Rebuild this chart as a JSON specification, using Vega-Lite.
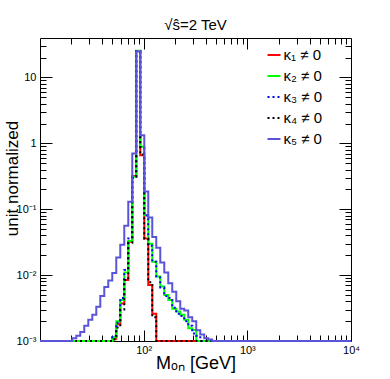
{
  "$schema": "https://vega.github.io/schema/vega-lite/v6.json",
  "width": 311,
  "height": 303,
  "autosize": "none",
  "padding": {"left": 40, "top": 38, "right": 39, "bottom": 38},
  "background": "white",
  "config": {"font": "Liberation Sans", "view": {"stroke": "black", "strokeWidth": 1}},
  "title": {"text": "√ŝ=2 TeV", "fontSize": 15, "fontWeight": "normal", "font": "Liberation Sans", "color": "black", "offset": 5, "anchor": "middle"},
  "data": {"values": [
    {"s":"κ₁ ≠ 0","m":10,"v":0.001},{"s":"κ₁ ≠ 0","m":49.79,"v":0.00108},{"s":"κ₁ ≠ 0","m":54.42,"v":0.0018},{"s":"κ₁ ≠ 0","m":59.47,"v":0.0037},{"s":"κ₁ ≠ 0","m":65.0,"v":0.0084},{"s":"κ₁ ≠ 0","m":71.03,"v":0.032},{"s":"κ₁ ≠ 0","m":77.63,"v":0.32},{"s":"κ₁ ≠ 0","m":84.84,"v":25},{"s":"κ₁ ≠ 0","m":92.72,"v":0.66},{"s":"κ₁ ≠ 0","m":101.34,"v":0.036},{"s":"κ₁ ≠ 0","m":110.75,"v":0.0071},{"s":"κ₁ ≠ 0","m":121.04,"v":0.0026},{"s":"κ₁ ≠ 0","m":132.28,"v":0.001},{"s":"κ₁ ≠ 0","m":10000,"v":0.001},
    {"s":"κ₂ ≠ 0","m":10,"v":0.001},{"s":"κ₂ ≠ 0","m":49.79,"v":0.00114},{"s":"κ₂ ≠ 0","m":54.42,"v":0.002},{"s":"κ₂ ≠ 0","m":59.47,"v":0.0042},{"s":"κ₂ ≠ 0","m":65.0,"v":0.011},{"s":"κ₂ ≠ 0","m":71.03,"v":0.033},{"s":"κ₂ ≠ 0","m":77.63,"v":0.31},{"s":"κ₂ ≠ 0","m":84.84,"v":25.5},{"s":"κ₂ ≠ 0","m":92.72,"v":0.89},{"s":"κ₂ ≠ 0","m":101.34,"v":0.082},{"s":"κ₂ ≠ 0","m":110.75,"v":0.03},{"s":"κ₂ ≠ 0","m":121.04,"v":0.016},{"s":"κ₂ ≠ 0","m":132.28,"v":0.0095},{"s":"κ₂ ≠ 0","m":144.57,"v":0.0067},{"s":"κ₂ ≠ 0","m":158.0,"v":0.005},{"s":"κ₂ ≠ 0","m":172.67,"v":0.0042},{"s":"κ₂ ≠ 0","m":188.71,"v":0.0031},{"s":"κ₂ ≠ 0","m":206.23,"v":0.0028},{"s":"κ₂ ≠ 0","m":225.39,"v":0.0025},{"s":"κ₂ ≠ 0","m":246.33,"v":0.0021},{"s":"κ₂ ≠ 0","m":269.2,"v":0.00156},{"s":"κ₂ ≠ 0","m":294.2,"v":0.00147},{"s":"κ₂ ≠ 0","m":321.5,"v":0.001},{"s":"κ₂ ≠ 0","m":10000,"v":0.001},
    {"s":"κ₃ ≠ 0","m":10,"v":0.001},{"s":"κ₃ ≠ 0","m":49.79,"v":0.0012},{"s":"κ₃ ≠ 0","m":54.42,"v":0.0019},{"s":"κ₃ ≠ 0","m":59.47,"v":0.0045},{"s":"κ₃ ≠ 0","m":65.0,"v":0.012},{"s":"κ₃ ≠ 0","m":71.03,"v":0.036},{"s":"κ₃ ≠ 0","m":77.63,"v":0.31},{"s":"κ₃ ≠ 0","m":84.84,"v":25},{"s":"κ₃ ≠ 0","m":92.72,"v":0.88},{"s":"κ₃ ≠ 0","m":101.34,"v":0.08},{"s":"κ₃ ≠ 0","m":110.75,"v":0.028},{"s":"κ₃ ≠ 0","m":121.04,"v":0.016},{"s":"κ₃ ≠ 0","m":132.28,"v":0.0092},{"s":"κ₃ ≠ 0","m":144.57,"v":0.0065},{"s":"κ₃ ≠ 0","m":158.0,"v":0.0048},{"s":"κ₃ ≠ 0","m":172.67,"v":0.0045},{"s":"κ₃ ≠ 0","m":188.71,"v":0.0032},{"s":"κ₃ ≠ 0","m":206.23,"v":0.0026},{"s":"κ₃ ≠ 0","m":225.39,"v":0.0024},{"s":"κ₃ ≠ 0","m":246.33,"v":0.002},{"s":"κ₃ ≠ 0","m":269.2,"v":0.0017},{"s":"κ₃ ≠ 0","m":294.2,"v":0.0013},{"s":"κ₃ ≠ 0","m":321.5,"v":0.0012},{"s":"κ₃ ≠ 0","m":351.4,"v":0.001},{"s":"κ₃ ≠ 0","m":10000,"v":0.001},
    {"s":"κ₄ ≠ 0","m":10,"v":0.001},{"s":"κ₄ ≠ 0","m":49.79,"v":0.00105},{"s":"κ₄ ≠ 0","m":54.42,"v":0.0016},{"s":"κ₄ ≠ 0","m":59.47,"v":0.003},{"s":"κ₄ ≠ 0","m":65.0,"v":0.0084},{"s":"κ₄ ≠ 0","m":71.03,"v":0.031},{"s":"κ₄ ≠ 0","m":77.63,"v":0.30},{"s":"κ₄ ≠ 0","m":84.84,"v":25},{"s":"κ₄ ≠ 0","m":92.72,"v":0.68},{"s":"κ₄ ≠ 0","m":101.34,"v":0.036},{"s":"κ₄ ≠ 0","m":110.75,"v":0.0078},{"s":"κ₄ ≠ 0","m":121.04,"v":0.0023},{"s":"κ₄ ≠ 0","m":132.28,"v":0.001},{"s":"κ₄ ≠ 0","m":10000,"v":0.001},
    {"s":"κ₅ ≠ 0","m":10,"v":0.001},{"s":"κ₅ ≠ 0","m":20.49,"v":0.0011},{"s":"κ₅ ≠ 0","m":22.39,"v":0.0012},{"s":"κ₅ ≠ 0","m":24.47,"v":0.00137},{"s":"κ₅ ≠ 0","m":26.74,"v":0.0017},{"s":"κ₅ ≠ 0","m":29.23,"v":0.0021},{"s":"κ₅ ≠ 0","m":31.94,"v":0.0025},{"s":"κ₅ ≠ 0","m":34.91,"v":0.0033},{"s":"κ₅ ≠ 0","m":38.14,"v":0.0048},{"s":"κ₅ ≠ 0","m":41.69,"v":0.0066},{"s":"κ₅ ≠ 0","m":45.56,"v":0.0083},{"s":"κ₅ ≠ 0","m":49.79,"v":0.0108},{"s":"κ₅ ≠ 0","m":54.42,"v":0.0185},{"s":"κ₅ ≠ 0","m":59.47,"v":0.029},{"s":"κ₅ ≠ 0","m":65.0,"v":0.056},{"s":"κ₅ ≠ 0","m":71.03,"v":0.13},{"s":"κ₅ ≠ 0","m":77.63,"v":0.70},{"s":"κ₅ ≠ 0","m":84.84,"v":25},{"s":"κ₅ ≠ 0","m":92.72,"v":1.33},{"s":"κ₅ ≠ 0","m":101.34,"v":0.185},{"s":"κ₅ ≠ 0","m":110.75,"v":0.075},{"s":"κ₅ ≠ 0","m":121.04,"v":0.038},{"s":"κ₅ ≠ 0","m":132.28,"v":0.026},{"s":"κ₅ ≠ 0","m":144.57,"v":0.0155},{"s":"κ₅ ≠ 0","m":158.0,"v":0.011},{"s":"κ₅ ≠ 0","m":172.67,"v":0.0075},{"s":"κ₅ ≠ 0","m":188.71,"v":0.0056},{"s":"κ₅ ≠ 0","m":206.23,"v":0.004},{"s":"κ₅ ≠ 0","m":225.39,"v":0.0031},{"s":"κ₅ ≠ 0","m":246.33,"v":0.0029},{"s":"κ₅ ≠ 0","m":269.2,"v":0.0023},{"s":"κ₅ ≠ 0","m":294.2,"v":0.002},{"s":"κ₅ ≠ 0","m":321.5,"v":0.00145},{"s":"κ₅ ≠ 0","m":351.4,"v":0.00125},{"s":"κ₅ ≠ 0","m":384.0,"v":0.0011},{"s":"κ₅ ≠ 0","m":419.7,"v":0.00105},{"s":"κ₅ ≠ 0","m":458.6,"v":0.001},{"s":"κ₅ ≠ 0","m":10000,"v":0.001}
  ]},
  "resolve": {"axis": {"x": "independent", "y": "independent"}},
  "layer": [
    {
      "mark": {"type": "line", "interpolate": "step-after", "strokeWidth": 2, "clip": false},
      "encoding": {
        "x": {"field": "m", "type": "quantitative", "scale": {"type": "log", "domain": [10, 10000], "nice": false},
          "axis": {"orient": "bottom", "values": [100, 1000, 10000], "ticks": false, "domain": false, "grid": false, "labelFlush": false, "labelOverlap": false, "labelBound": false,
            "labelExpr": "datum.value == 100 ? '10²' : datum.value == 1000 ? '10³' : '10⁴'",
            "labelFont": "Liberation Sans", "labelFontSize": 11, "labelColor": "black", "labelPadding": 3,
            "title": "Mₒₙ [GeV]", "titleFont": "Liberation Sans", "titleFontSize": 18, "titleFontWeight": "normal", "titleColor": "black", "titleBaseline": "alphabetic", "titleY": 27}},
        "y": {"field": "v", "type": "quantitative", "scale": {"type": "log", "domain": [0.001, 39.7], "nice": false},
          "axis": {"orient": "left", "values": [0.001, 0.01, 0.1, 1, 10], "ticks": false, "domain": false, "grid": false, "labelOverlap": false, "labelBound": false,
            "labelExpr": "datum.value == 10 ? '10' : datum.value == 1 ? '1' : datum.value == 0.1 ? '10⁻¹' : datum.value == 0.01 ? '10⁻²' : '10⁻³'",
            "labelFont": "Liberation Sans", "labelFontSize": 11, "labelColor": "black", "labelPadding": 4,
            "title": "unit normalized", "titleFont": "Liberation Sans", "titleFontSize": 17, "titleFontWeight": "normal", "titleColor": "black", "titleAlign": "center", "titleBaseline": "alphabetic", "titleX": -22.5, "titleY": 140}},
        "color": {"field": "s", "type": "nominal",
          "scale": {"domain": ["κ₁ ≠ 0", "κ₂ ≠ 0", "κ₃ ≠ 0", "κ₄ ≠ 0", "κ₅ ≠ 0"], "range": ["#ff0000", "#00ff00", "#0000ff", "#000000", "#5954d8"]},
          "legend": {"orient": "none", "legendX": 226.5, "legendY": 9.5, "title": null, "symbolType": "stroke", "symbolSize": 169, "symbolStrokeWidth": 2, "labelFont": "Liberation Sans", "labelFontSize": 15, "labelColor": "black", "labelOffset": 2, "rowPadding": 5}},
        "strokeDash": {"field": "s", "type": "nominal",
          "scale": {"domain": ["κ₁ ≠ 0", "κ₂ ≠ 0", "κ₃ ≠ 0", "κ₄ ≠ 0", "κ₅ ≠ 0"], "range": [[1, 0], [1, 0], [2, 3], [2, 3], [1, 0]]},
          "legend": {"orient": "none", "legendX": 226.5, "legendY": 9.5, "title": null, "symbolType": "stroke", "symbolSize": 169, "symbolStrokeWidth": 2, "labelFont": "Liberation Sans", "labelFontSize": 15, "labelColor": "black", "labelOffset": 2, "rowPadding": 5}}
      }
    },
    {
      "mark": {"type": "point", "opacity": 0},
      "encoding": {
        "x": {"field": "m", "type": "quantitative", "scale": {"type": "log", "domain": [10, 10000], "nice": false},
          "axis": {"orient": "bottom", "values": [20,30,40,50,60,70,80,90,100,200,300,400,500,600,700,800,900,1000,2000,3000,4000,5000,6000,7000,8000,9000], "labels": false, "domain": false, "grid": false, "title": null, "tickColor": "black", "tickWidth": 1,
            "tickSize": {"condition": {"test": "datum.value == 100 || datum.value == 1000", "value": -11}, "value": -6}}},
        "y": {"field": "v", "type": "quantitative", "scale": {"type": "log", "domain": [0.001, 39.7], "nice": false},
          "axis": {"orient": "left", "values": [0.002,0.003,0.004,0.005,0.006,0.007,0.008,0.009,0.01,0.02,0.03,0.04,0.05,0.06,0.07,0.08,0.09,0.1,0.2,0.3,0.4,0.5,0.6,0.7,0.8,0.9,1,2,3,4,5,6,7,8,9,10,20,30], "labels": false, "domain": false, "grid": false, "title": null, "tickColor": "black", "tickWidth": 1,
            "tickSize": {"condition": {"test": "datum.value == 0.01 || datum.value == 0.1 || datum.value == 1 || datum.value == 10", "value": -12}, "value": -6}}}
      }
    },
    {
      "mark": {"type": "point", "opacity": 0},
      "encoding": {
        "x": {"field": "m", "type": "quantitative", "scale": {"type": "log", "domain": [10, 10000], "nice": false},
          "axis": {"orient": "top", "values": [20,30,40,50,60,70,80,90,100,200,300,400,500,600,700,800,900,1000,2000,3000,4000,5000,6000,7000,8000,9000], "labels": false, "domain": false, "grid": false, "title": null, "tickColor": "black", "tickWidth": 1,
            "tickSize": {"condition": {"test": "datum.value == 100 || datum.value == 1000", "value": -11}, "value": -6}}},
        "y": {"field": "v", "type": "quantitative", "scale": {"type": "log", "domain": [0.001, 39.7], "nice": false},
          "axis": {"orient": "right", "values": [0.002,0.003,0.004,0.005,0.006,0.007,0.008,0.009,0.01,0.02,0.03,0.04,0.05,0.06,0.07,0.08,0.09,0.1,0.2,0.3,0.4,0.5,0.6,0.7,0.8,0.9,1,2,3,4,5,6,7,8,9,10,20,30], "labels": false, "domain": false, "grid": false, "title": null, "tickColor": "black", "tickWidth": 1,
            "tickSize": {"condition": {"test": "datum.value == 0.01 || datum.value == 0.1 || datum.value == 1 || datum.value == 10", "value": -12}, "value": -6}}}
      }
    }
  ]
}
